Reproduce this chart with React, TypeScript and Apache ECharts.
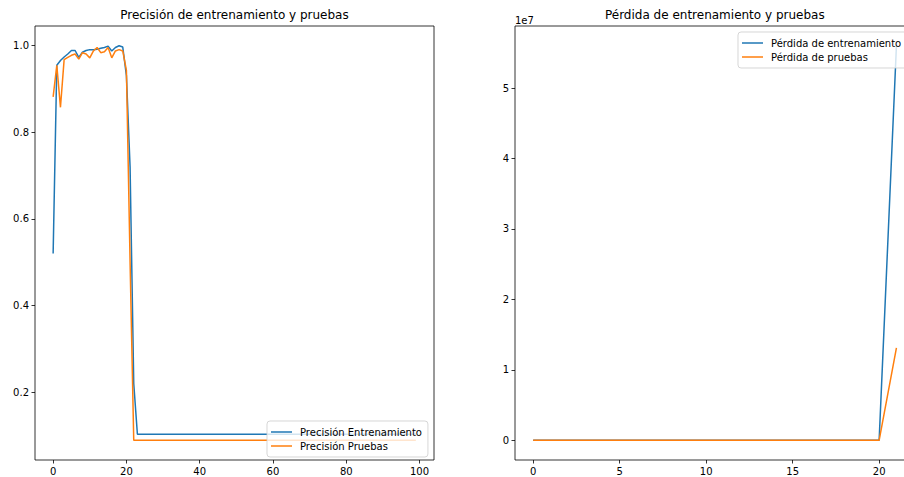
import React, { useEffect, useRef } from "react";
import * as echarts from "echarts";

// Accuracy per epoch (100 epochs)
const precisionEntrenamiento: number[] = [
  0.52, 0.954, 0.965, 0.973, 0.98, 0.988, 0.988, 0.972, 0.984, 0.988,
  0.99, 0.99, 0.991, 0.993, 0.995, 0.998, 0.987, 0.995, 0.999, 0.996,
  0.93, 0.72, 0.22, 0.1032, 0.1032, 0.1032, 0.1032, 0.1032, 0.1032, 0.1032,
  0.1032, 0.1032, 0.1032, 0.1032, 0.1032, 0.1032, 0.1032, 0.1032, 0.1032, 0.1032,
  0.1032, 0.1032, 0.1032, 0.1032, 0.1032, 0.1032, 0.1032, 0.1032, 0.1032, 0.1032,
  0.1032, 0.1032, 0.1032, 0.1032, 0.1032, 0.1032, 0.1032, 0.1032, 0.1032, 0.1032,
  0.1032, 0.1032, 0.1032, 0.1032, 0.1032, 0.1032, 0.1032, 0.1032, 0.1032, 0.1032,
  0.1032, 0.1032, 0.1032, 0.1032, 0.1032, 0.1032, 0.1032, 0.1032, 0.1032, 0.1032,
  0.1032, 0.1032, 0.1032, 0.1032, 0.1032, 0.1032, 0.1032, 0.1032, 0.1032, 0.1032,
  0.1032, 0.1032, 0.1032, 0.1032, 0.1032, 0.1032, 0.1032, 0.1032, 0.1032, 0.1032,
];

const precisionPruebas: number[] = [
  0.881, 0.954, 0.857, 0.967, 0.972, 0.977, 0.98, 0.968, 0.983, 0.98,
  0.971, 0.987, 0.995, 0.983, 0.985, 0.995, 0.971, 0.987, 0.99, 0.987,
  0.942, 0.5, 0.089, 0.089, 0.089, 0.089, 0.089, 0.089, 0.089, 0.089,
  0.089, 0.089, 0.089, 0.089, 0.089, 0.089, 0.089, 0.089, 0.089, 0.089,
  0.089, 0.089, 0.089, 0.089, 0.089, 0.089, 0.089, 0.089, 0.089, 0.089,
  0.089, 0.089, 0.089, 0.089, 0.089, 0.089, 0.089, 0.089, 0.089, 0.089,
  0.089, 0.089, 0.089, 0.089, 0.089, 0.089, 0.089, 0.089, 0.089, 0.089,
  0.089, 0.089, 0.089, 0.089, 0.089, 0.089, 0.089, 0.089, 0.089, 0.089,
  0.089, 0.089, 0.089, 0.089, 0.089, 0.089, 0.089, 0.089, 0.089, 0.089,
  0.089, 0.089, 0.089, 0.089, 0.089, 0.089, 0.089, 0.089, 0.089, 0.089,
];

// Loss per epoch (finite values only; it diverges after epoch 21)
const perdidaEntrenamiento: number[] = [
  0.62, 0.16, 0.11, 0.09, 0.07, 0.05, 0.05, 0.08, 0.05, 0.04,
  0.04, 0.03, 0.03, 0.03, 0.02, 0.02, 0.04, 0.02, 0.01, 0.02,
  0.35, 5.6e7,
];

const perdidaPruebas: number[] = [
  0.36, 0.15, 0.47, 0.11, 0.1, 0.09, 0.08, 0.12, 0.07, 0.08,
  0.11, 0.06, 0.04, 0.07, 0.06, 0.04, 0.11, 0.06, 0.05, 0.06,
  0.25, 1.31e7,
];

const accXTicks = [0, 20, 40, 60, 80, 100];
const accYTicks = [0.2, 0.4, 0.6, 0.8, 1.0];
const lossXTicks = [0, 5, 10, 15, 20];
const lossYTicks = [0, 1e7, 2e7, 3e7, 4e7, 5e7];

const BLUE = "#1f77b4";
const ORANGE = "#ff7f0e";
const FONT = "DejaVu Sans";

const toPairs = (arr: number[]) => arr.map((v, i) => [i, v]);

const axisCommon = {
  axisLine: { show: false, onZero: false },
  axisTick: { show: true, inside: false, length: 3.5, lineStyle: { color: "#000", width: 0.8 } },
  axisLabel: { color: "#000", fontFamily: FONT, fontSize: 10, margin: 6 },
  splitLine: { show: false },
};

const legendCommon = {
  orient: "vertical" as const,
  icon: "rect",
  itemWidth: 21,
  itemHeight: 1.5,
  itemGap: 2,
  padding: [5, 6, 5, 4],
  backgroundColor: "rgba(255,255,255,0.8)",
  borderColor: "rgba(204,204,204,0.8)",
  borderWidth: 1,
  borderRadius: 3,
  textStyle: { color: "#000", fontFamily: FONT, fontSize: 10, lineHeight: 12, padding: [0, 0, 0, 3] },
};

export default function App() {
  const ref = useRef<HTMLDivElement>(null);

  useEffect(() => {
    if (!ref.current) return;
    const chart = echarts.init(ref.current, null, { renderer: "svg" });
    chart.setOption({
      animation: false,
      backgroundColor: "#fff",
      title: [
        {
          text: "Precisión de entrenamiento y pruebas",
          left: 234.5,
          top: 9,
          textAlign: "center",
          padding: 0,
          textStyle: { fontFamily: FONT, fontSize: 12, fontWeight: "normal", color: "#000" },
        },
        {
          text: "Pérdida de entrenamiento y pruebas",
          left: 714.8,
          top: 9,
          textAlign: "center",
          padding: 0,
          textStyle: { fontFamily: FONT, fontSize: 12, fontWeight: "normal", color: "#000" },
        },
      ],
      graphic: [
        {
          type: "text",
          x: 515,
          y: 20,
          style: {
            text: "1e7",
            fontFamily: FONT,
            fontSize: 10,
            fill: "#000",
            textAlign: "left",
            textVerticalAlign: "middle",
          },
        },
      ],
      grid: [
        { left: 35, right: 481, top: 26, bottom: 17, show: true, borderColor: "#000", borderWidth: 0.8, backgroundColor: "transparent" },
        { left: 515, right: 0.4, top: 26, bottom: 17, show: true, borderColor: "#000", borderWidth: 0.8, backgroundColor: "transparent" },
      ],
      xAxis: [
        {
          ...axisCommon,
          type: "value",
          gridIndex: 0,
          min: -4.95,
          max: 103.95,
          axisTick: { ...axisCommon.axisTick, customValues: accXTicks },
          axisLabel: { ...axisCommon.axisLabel, customValues: accXTicks },
        },
        {
          ...axisCommon,
          type: "value",
          gridIndex: 1,
          min: -1.05,
          max: 22.05,
          axisTick: { ...axisCommon.axisTick, customValues: lossXTicks },
          axisLabel: { ...axisCommon.axisLabel, customValues: lossXTicks },
        },
      ],
      yAxis: [
        {
          ...axisCommon,
          type: "value",
          gridIndex: 0,
          min: 0.0437,
          max: 1.0445,
          axisTick: { ...axisCommon.axisTick, customValues: accYTicks },
          axisLabel: {
            ...axisCommon.axisLabel,
            customValues: accYTicks,
            formatter: (v: number) => v.toFixed(1),
          },
        },
        {
          ...axisCommon,
          type: "value",
          gridIndex: 1,
          min: -2.8e6,
          max: 5.88e7,
          axisTick: { ...axisCommon.axisTick, customValues: lossYTicks },
          axisLabel: {
            ...axisCommon.axisLabel,
            customValues: lossYTicks,
            formatter: (v: number) => String(Math.round(v / 1e7)),
          },
        },
      ],
      legend: [
        {
          ...legendCommon,
          left: 267,
          top: 421,
          data: ["Precisión Entrenamiento", "Precisión Pruebas"],
        },
        {
          ...legendCommon,
          left: 738,
          top: 32,
          data: ["Pérdida de entrenamiento", "Pérdida de pruebas"],
        },
      ],
      series: [
        {
          name: "Precisión Entrenamiento",
          type: "line",
          xAxisIndex: 0,
          yAxisIndex: 0,
          data: toPairs(precisionEntrenamiento),
          showSymbol: false,
          symbol: "none",
          lineStyle: { color: BLUE, width: 1.5 },
          itemStyle: { color: BLUE },
        },
        {
          name: "Precisión Pruebas",
          type: "line",
          xAxisIndex: 0,
          yAxisIndex: 0,
          data: toPairs(precisionPruebas),
          showSymbol: false,
          symbol: "none",
          lineStyle: { color: ORANGE, width: 1.5 },
          itemStyle: { color: ORANGE },
        },
        {
          name: "Pérdida de entrenamiento",
          type: "line",
          xAxisIndex: 1,
          yAxisIndex: 1,
          data: toPairs(perdidaEntrenamiento),
          showSymbol: false,
          symbol: "none",
          lineStyle: { color: BLUE, width: 1.5 },
          itemStyle: { color: BLUE },
        },
        {
          name: "Pérdida de pruebas",
          type: "line",
          xAxisIndex: 1,
          yAxisIndex: 1,
          data: toPairs(perdidaPruebas),
          showSymbol: false,
          symbol: "none",
          lineStyle: { color: ORANGE, width: 1.5 },
          itemStyle: { color: ORANGE },
        },
      ],
    });
    return () => chart.dispose();
  }, []);

  // The figure is wider than the visible window; its right edge is clipped.
  return (
    <div style={{ position: "absolute", left: 0, top: 0, width: 904, height: 477, overflow: "hidden" }}>
      <div ref={ref} style={{ width: 915, height: 477 }} />
    </div>
  );
}
